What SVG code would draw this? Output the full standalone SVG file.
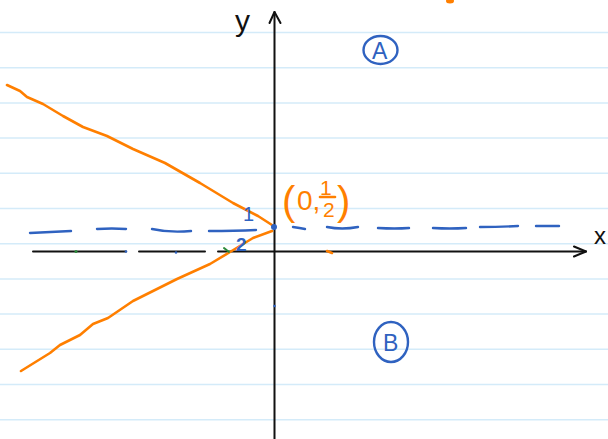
<svg xmlns="http://www.w3.org/2000/svg" width="608" height="439" viewBox="0 0 608 439">
<style>
.rule{stroke:#d4ebf9;stroke-width:1.5}
.ax{stroke:#111;stroke-width:2;fill:none;stroke-linecap:round;stroke-linejoin:round}
.or{stroke:#ff7f00;stroke-width:2.6;fill:none;stroke-linecap:round;stroke-linejoin:round}
.bl{stroke:#2f62c0;stroke-width:2.4;fill:none;stroke-linecap:round;stroke-linejoin:round}
.tb{font-family:"Liberation Sans",Arial,sans-serif;fill:#2f62c0}
.to{font-family:"Liberation Sans",Arial,sans-serif;fill:#ff7f00}
.tk{font-family:"Liberation Sans",Arial,sans-serif;fill:#111}
</style>
<rect width="608" height="439" fill="#fff"/>
<g id="ruling">
<line class="rule" x1="0" y1="32.5" x2="608" y2="32.5"/>
<line class="rule" x1="0" y1="67.7" x2="608" y2="67.7"/>
<line class="rule" x1="0" y1="102.9" x2="608" y2="102.9"/>
<line class="rule" x1="0" y1="138.1" x2="608" y2="138.1"/>
<line class="rule" x1="0" y1="173.3" x2="608" y2="173.3"/>
<line class="rule" x1="0" y1="208.5" x2="608" y2="208.5"/>
<line class="rule" x1="0" y1="243.7" x2="608" y2="243.7"/>
<line class="rule" x1="0" y1="278.9" x2="608" y2="278.9"/>
<line class="rule" x1="0" y1="314.1" x2="608" y2="314.1"/>
<line class="rule" x1="0" y1="349.3" x2="608" y2="349.3"/>
<line class="rule" x1="0" y1="384.5" x2="608" y2="384.5"/>
<line class="rule" x1="0" y1="419.7" x2="608" y2="419.7"/>
</g>
<g id="connectors">
<g id="x-axis">
<line class="ax" x1="33" y1="251.5" x2="126" y2="251.5"/>
<line class="ax" x1="139" y1="251.5" x2="205" y2="251.5"/>
<line class="ax" x1="218" y1="251.5" x2="586" y2="251.5"/>
<polyline class="ax" points="574,246.5 586,251.5 574,256.5"/>
</g>
<g id="y-axis">
<line class="ax" x1="274.5" y1="12" x2="274.5" y2="439"/>
<polyline class="ax" points="269.5,23 274.5,12 280.5,23"/>
</g>
<g id="dashed-line">
<path class="bl" d="M30,233 Q50,232 71,231"/>
<path class="bl" d="M97,229 Q112,228 126,229"/>
<path class="bl" d="M152,229 Q170,233 191,231"/>
<path class="bl" d="M209,231 Q235,231 256,230"/>
<path class="bl" d="M293,227 Q300,228 305,229"/>
<path class="bl" d="M327,227 Q342,230 358,227"/>
<path class="bl" d="M378,228 Q395,229 409,228"/>
<path class="bl" d="M433,228 Q450,229 466,228"/>
<path class="bl" d="M480,227 Q500,227 518,226"/>
<path class="bl" d="M536,226 Q548,226 559,226"/>
</g>
<g id="curve-upper">
<polyline class="or" points="7,85 20,91 27,97 43,104 63,116 83,127 107,136 133,149 165,163 200,183 233,203 258,216 272,225"/>
</g>
<g id="curve-lower">
<polyline class="or" points="21,371 50,353 60,345 80,335 93,324 108,318 133,301 153,291 177,279 210,264 230,252 253,238 272,231"/>
</g>
</g>
<g id="point">
<circle cx="274" cy="227" r="3" fill="#2f62c0"/>
<text class="tb" x="243" y="221" font-size="20">1</text>
<text class="tb" x="236" y="251" font-size="19" font-weight="bold">2</text>
</g>
<g id="point-label">
<text class="to" x="282" y="215" font-size="40" font-weight="300">(</text>
<text class="to" x="297" y="210" font-size="28">0,</text>
<text class="to" x="320" y="195" font-size="21">1</text>
<line class="or" x1="320" y1="197" x2="335" y2="197" stroke-width="2"/>
<text class="to" x="323" y="217" font-size="21">2</text>
<text class="to" x="337" y="215" font-size="40" font-weight="300">)</text>
</g>
<g id="label-y"><text class="tk" x="235" y="31" font-size="30">y</text></g>
<g id="label-x"><text class="tk" x="594" y="244" font-size="24">x</text></g>
<g id="region-A">
<ellipse class="bl" cx="380.5" cy="50" rx="17" ry="14"/>
<text class="tb" x="372" y="59" font-size="23">A</text>
</g>
<g id="region-B">
<ellipse class="bl" cx="391" cy="342" rx="17" ry="20"/>
<text class="tb" x="383" y="351" font-size="23">B</text>
</g>
<g id="marks">
<circle cx="76" cy="251.5" r="1.5" fill="#2a8a3a"/>
<line x1="224" y1="248" x2="229" y2="252" stroke="#2a8a3a" stroke-width="2" stroke-linecap="round"/>
<circle cx="126" cy="251.5" r="1.3" fill="#2f62c0"/>
<circle cx="176" cy="252.5" r="1.3" fill="#2f62c0"/>
<circle cx="274.5" cy="306" r="1.3" fill="#2f62c0"/>
<line class="or" x1="327" y1="251" x2="332" y2="253" stroke-width="2"/>
<ellipse cx="450" cy="1" rx="4" ry="2.5" fill="#ff7f00"/>
</g>
</svg>
